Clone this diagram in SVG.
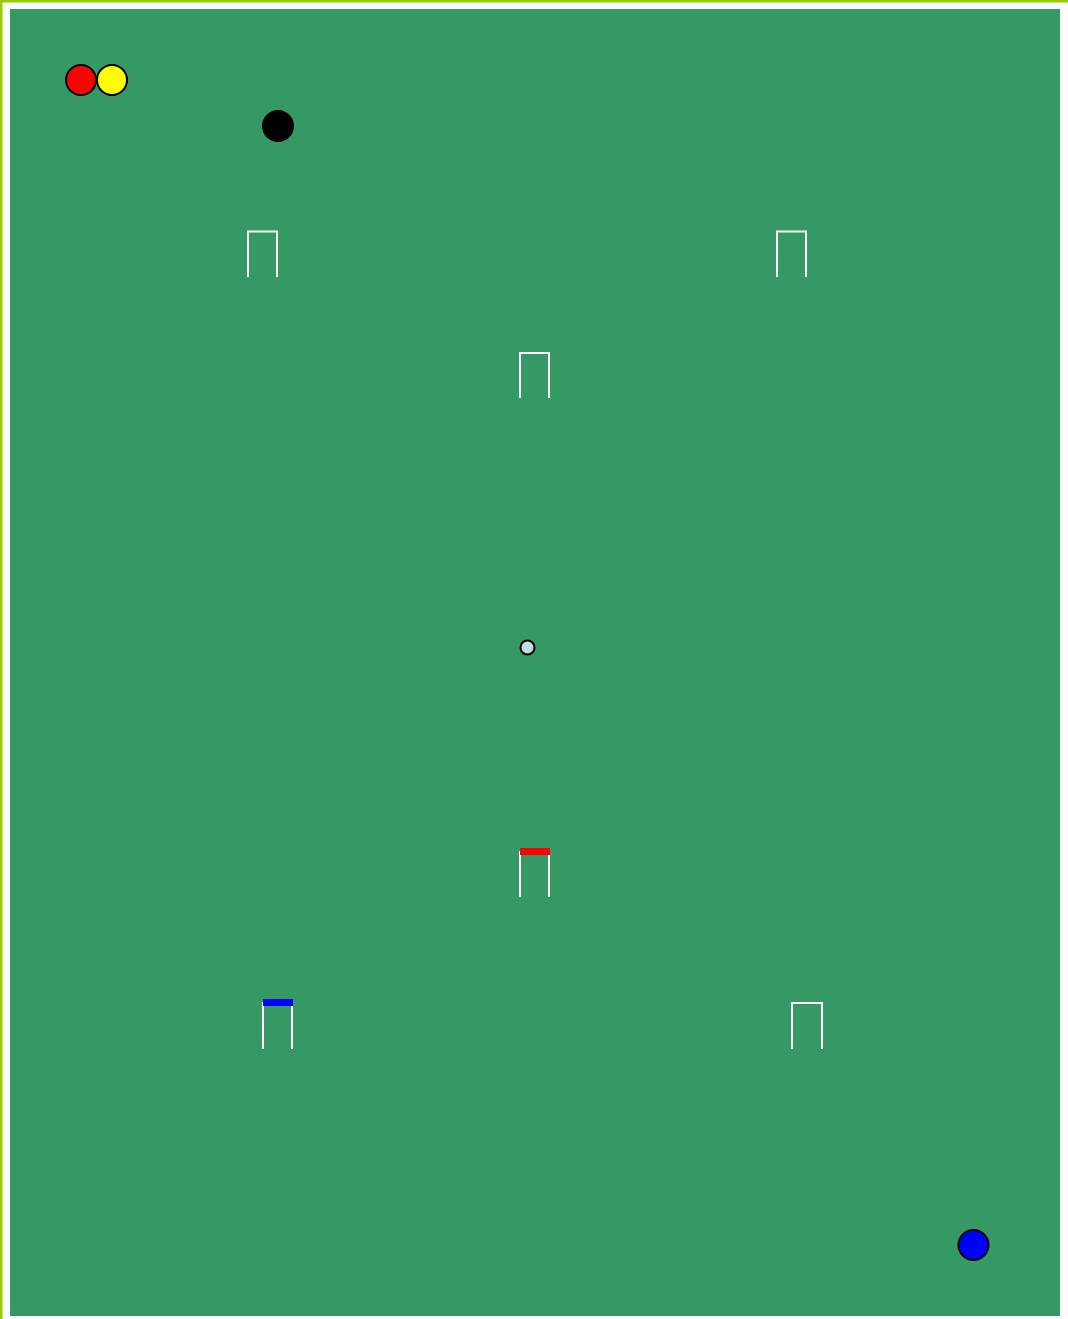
<svg xmlns="http://www.w3.org/2000/svg" width="1068" height="1319" viewBox="0 0 1068 1319">
<style>
.hoop{fill:none;stroke:#fff;stroke-width:2}
.ball{stroke:#000;stroke-width:2}
</style>
<rect x="0" y="0" width="1068" height="1319" fill="#fff"/>
<rect x="1" y="1" width="1100" height="1400" fill="none" stroke="#99cc00" stroke-width="3"/>
<rect x="10" y="9" width="1050" height="1307" fill="#359966"/>
<g id="hoop1"><path class="hoop" d="M248,277 V231.5 H277 V277"/></g>
<g id="hoop2"><path class="hoop" d="M777,277 V231.5 H806 V277"/></g>
<g id="hoop3"><path class="hoop" d="M520,398 V353 H549 V398"/></g>
<g id="hoop4"><path class="hoop" d="M520,897 V852 H549 V897"/><rect x="520" y="848" width="30" height="7" fill="#ff0000"/></g>
<g id="hoop5"><path class="hoop" d="M263,1049 V1003 H292 V1049"/><rect x="263" y="999" width="30" height="7" fill="#0000ff"/></g>
<g id="hoop6"><path class="hoop" d="M792,1049 V1003 H822 V1049"/></g>
<g id="peg"><circle cx="527.5" cy="647.5" r="7" fill="#c0dfe6" stroke="#000" stroke-width="2"/></g>
<g id="red"><circle class="ball" cx="81" cy="80" r="15" fill="#ff0000"/></g>
<g id="yellow"><circle class="ball" cx="112" cy="80" r="15" fill="#ffff00"/></g>
<g id="black"><circle cx="278" cy="126" r="16" fill="#000"/></g>
<g id="blue"><circle class="ball" cx="973.5" cy="1245" r="15" fill="#0000ff"/></g>
<g id="connectors"></g>
</svg>
